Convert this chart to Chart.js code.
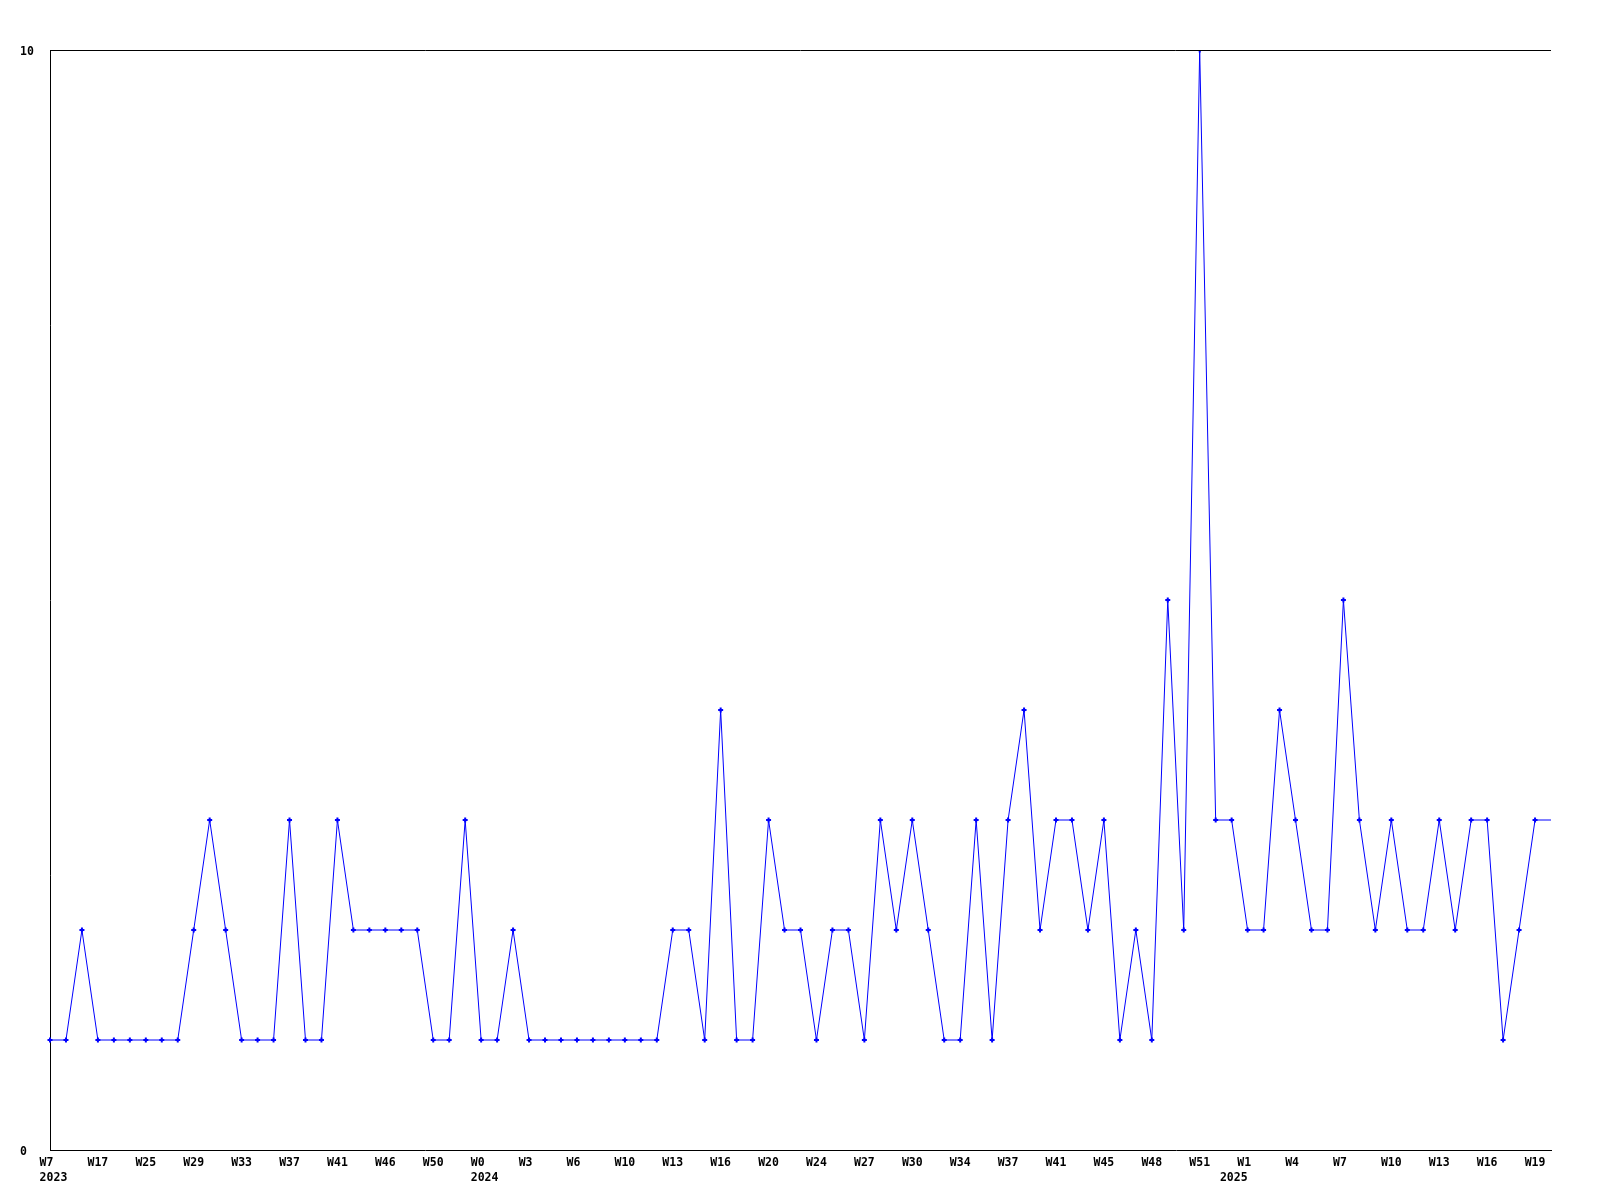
<!DOCTYPE html>
<html>
<head>
    <meta charset="UTF-8">
    <title>Weekly count</title>
    <script src="https://cdn.jsdelivr.net/npm/chart.js"></script>
    <style>
        body { margin: 0; padding: 0; background: #fff; }
        #wrap { width: 1600px; height: 1200px; position: relative; }
    </style>
</head>
<body>
    <div id="wrap"><canvas id="grafico"></canvas></div>
    <script>
        // one value per week slot (95 slots)
        const valores = [
            1,1,2,1,1,1,1,1,1,2,3,2,1,1,1,3,1,1,3,2,2,2,2,2,1,1,3,1,1,2,1,
            1,1,1,1,1,1,1,1,2,2,1,4,1,1,3,2,2,1,2,2,1,3,2,3,2,1,1,3,1,3,4,2,3,
            3,2,3,1,2,1,5,2,10,3,3,2,2,4,3,2,2,5,3,2,3,2,2,3,2,3,3,1,2,3,3
        ];
        // tick labels, one every 3 slots
        const semanas = ["W7","W17","W25","W29","W33","W37","W41","W46","W50","W0","W3","W6","W10","W13","W16",
                         "W20","W24","W27","W30","W34","W37","W41","W45","W48","W51","W1","W4","W7","W10","W13","W16","W19"];
        const anios = { 0: "2023", 9: "2024", 25: "2025" };
        const cada = 3;

        const categorias = valores.map((v, i) => {
            if (i % cada !== 0) return "";
            const n = i / cada;
            const sem = semanas[n].padEnd(3, " ");
            if (!anios[n]) return sem;
            // year line placement as in the original
            const anio = n === 25 ? anios[n] + "    " : " " + anios[n];
            return [sem, anio];
        });

        const fuente = { family: "'DejaVu Sans Mono', monospace", size: 11.5, weight: 'bold', lineHeight: 1.25 };

        const bordeSuperior = {
            id: 'bordeSuperior',
            afterDraw(chart) {
                const { ctx, chartArea } = chart;
                ctx.save();
                ctx.strokeStyle = '#000';
                ctx.lineWidth = 1;
                ctx.beginPath();
                ctx.moveTo(chartArea.left, Math.round(chartArea.top) + 0.5);
                ctx.lineTo(chartArea.right, Math.round(chartArea.top) + 0.5);
                ctx.stroke();
                ctx.restore();
            }
        };

        const ultimo = valores.length - 1;

        new Chart(document.getElementById('grafico'), {
            type: 'line',
            data: {
                labels: categorias,
                datasets: [{
                    data: valores,
                    borderColor: '#0000ff',
                    borderWidth: 1,
                    tension: 0,
                    fill: false,
                    pointStyle: 'cross',
                    pointRadius: c => c.dataIndex === ultimo ? 0 : 2.5,
                    pointBorderWidth: 2,
                    pointBorderColor: '#0000ff',
                    pointBackgroundColor: '#0000ff'
                }]
            },
            options: {
                responsive: true,
                maintainAspectRatio: false,
                animation: false,
                layout: { padding: { left: 20, top: 50, right: 49, bottom: 0 } },
                plugins: { legend: { display: false }, tooltip: { enabled: false } },
                scales: {
                    x: {
                        grid: { display: false, drawTicks: false },
                        border: { display: true, color: '#000', width: 1 },
                        ticks: {
                            autoSkip: false, maxRotation: 0, minRotation: 0,
                            padding: 6, color: '#000', font: fuente
                        },
                        afterFit: s => { s.height = 50; }
                    },
                    y: {
                        min: 0, max: 10,
                        grid: { display: false, drawTicks: false },
                        border: { display: true, color: '#000', width: 1 },
                        ticks: {
                            stepSize: 10, crossAlign: 'far', padding: 0, labelOffset: 2,
                            color: '#000', font: fuente
                        },
                        afterFit: s => { s.width = 30; }
                    }
                }
            },
            plugins: [bordeSuperior]
        });
    </script>
</body>
</html>
